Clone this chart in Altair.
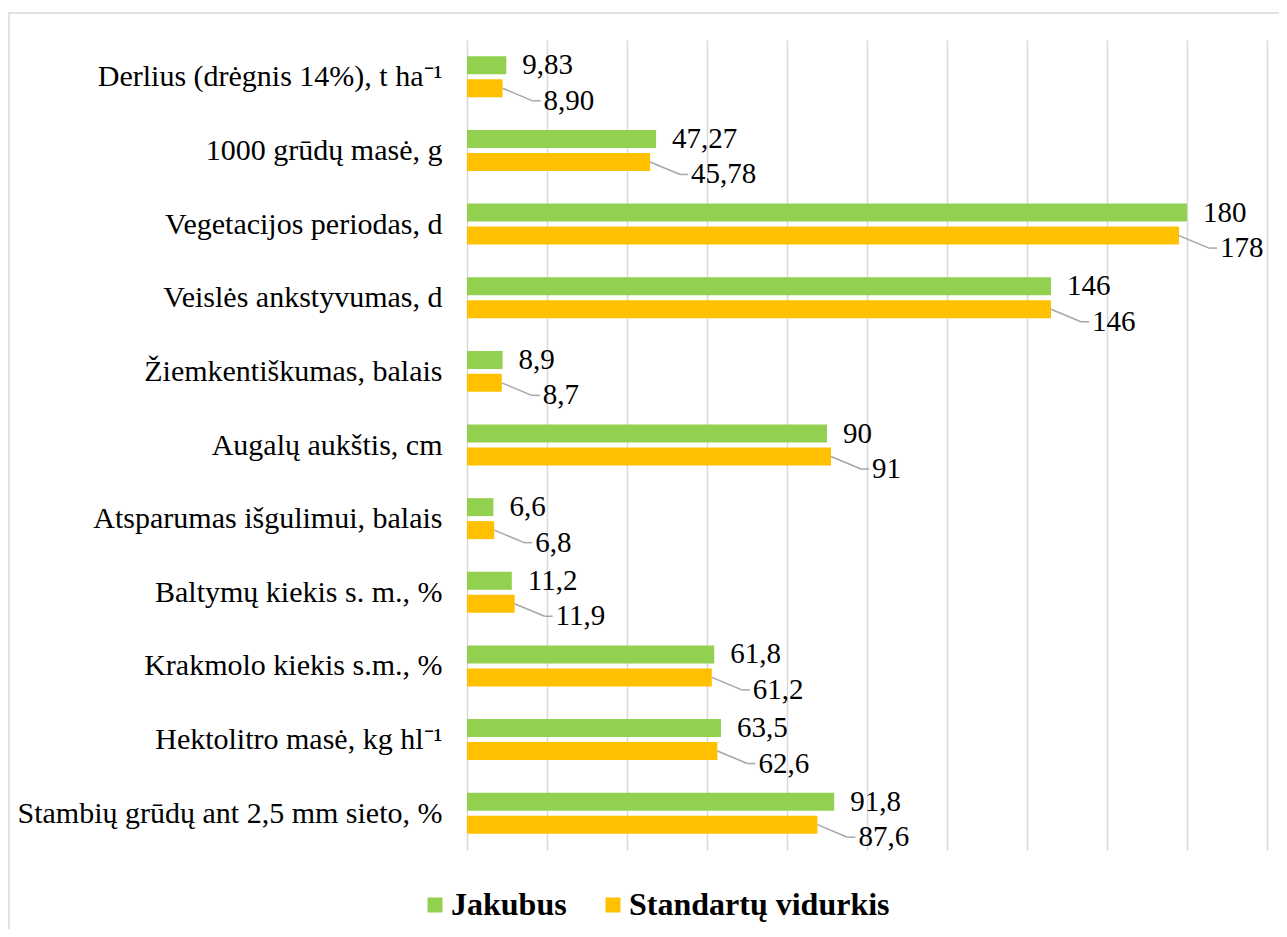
import json
import altair as alt
import pandas as pd

categories = [
    "Derlius (drėgnis 14%), t ha⁻¹\u00a0",
    "1000 grūdų masė, g\u00a0",
    "Vegetacijos periodas, d",
    "Veislės ankstyvumas, d",
    "Žiemkentiškumas, balais",
    "Augalų aukštis, cm",
    "Atsparumas išgulimui, balais",
    "Baltymų kiekis s. m., %",
    "Krakmolo kiekis s.m., %",
    "Hektolitro masė, kg hl⁻¹\u00a0",
    "Stambių grūdų ant 2,5 mm sieto, %",
]
jakubus = [9.83, 47.27, 180, 146, 8.9, 90, 6.6, 11.2, 61.8, 63.5, 91.8]
standartai = [8.90, 45.78, 178, 146, 8.7, 91, 6.8, 11.9, 61.2, 62.6, 87.6]
decimals = [2, 2, 0, 0, 1, 0, 1, 1, 1, 1, 1]
series = ["Jakubus", "Standartų vidurkis"]
colors = ["#92D050", "#FFC000"]
x_ticks = list(range(0, 201, 20))

rows = []
for i, cat in enumerate(categories):
    for s, vals in zip(series, [jakubus, standartai]):
        v = vals[i]
        rows.append({
            "row": i,
            "category": cat,
            "series": s,
            "value": v,
            "label": f"{v:.{decimals[i]}f}".replace(".", ","),
        })
df = pd.DataFrame(rows)

FONT = "Liberation Serif"
label_expr = json.dumps(categories, ensure_ascii=False) + "[datum.value]"

yscale = alt.Scale(domain=[-0.5, 10.5], reverse=True, nice=False, zero=False, padding=0)
xscale = alt.Scale(domain=[0, 200], nice=False)

base = alt.Chart(df).transform_calculate(
    yb="datum.row + (datum.series == 'Jakubus' ? -0.156 : 0.156)"
)

bars = base.mark_bar(orient="horizontal", size=18).encode(
    x=alt.X("value:Q", scale=xscale, title=None,
            axis=alt.Axis(values=x_ticks, labels=False, ticks=False, domain=False,
                          grid=True, gridColor="#D9D9D9", gridWidth=1.5)),
    y=alt.Y("yb:Q", scale=yscale, title=None,
            axis=alt.Axis(values=list(range(len(categories))), labelExpr=label_expr,
                          ticks=False, domain=False, grid=False,
                          labelFont=FONT, labelFontSize=30, labelColor="#000000",
                          labelPadding=25, labelLimit=1000, labelAlign="right",
                          labelBaseline="middle")),
    color=alt.Color("series:N", scale=alt.Scale(domain=series, range=colors),
                    legend=alt.Legend(orient="none", legendX=-48, legendY=849,
                                      direction="horizontal", title=None,
                                      symbolType="square", symbolSize=225,
                                      symbolStrokeWidth=0,
                                      labelFont=FONT, labelFontSize=32,
                                      labelFontWeight="bold", labelColor="#000000",
                                      labelLimit=600,
                                      columnPadding=30, labelOffset=0)),
)

green_labels = base.transform_filter("datum.series == 'Jakubus'").mark_text(
    align="left", baseline="middle", dx=16, font=FONT, fontSize=29, color="#000000"
).encode(
    x=alt.X("value:Q", scale=xscale),
    y=alt.Y("yb:Q", scale=yscale),
    text="label:N",
)

orange = base.transform_filter("datum.series != 'Jakubus'").transform_calculate(
    x1="datum.value + 7.5",
    x2="datum.value + 9.5",
    yl="datum.yb + 0.17",
)

leader_diag = orange.mark_rule(color="#A6A6A6", strokeWidth=1.5).encode(
    x=alt.X("value:Q", scale=xscale),
    x2="x1:Q",
    y=alt.Y("yb:Q", scale=yscale),
    y2="yl:Q",
)
leader_h = orange.mark_rule(color="#A6A6A6", strokeWidth=1.5).encode(
    x=alt.X("x1:Q", scale=xscale),
    x2="x2:Q",
    y=alt.Y("yl:Q", scale=yscale),
)
orange_labels = orange.mark_text(
    align="left", baseline="middle", dx=3, font=FONT, fontSize=29, color="#000000"
).encode(
    x=alt.X("x2:Q", scale=xscale),
    y=alt.Y("yl:Q", scale=yscale),
    text="label:N",
)

frame = alt.Chart(alt.Data(values=[{"a": 1}])).mark_rect(
    filled=False, stroke="#D9D9D9", strokeWidth=1.5
).encode(
    x=alt.value(-458), x2=alt.value(830), y=alt.value(-27), y2=alt.value(900)
)

chart = alt.layer(frame, bars, leader_diag, leader_h, green_labels, orange_labels).properties(
    width=800,
    height=810,
    padding={"left": 459, "top": 32, "right": 12, "bottom": 79},
    autosize=alt.AutoSizeParams(type="none"),
    background="#FFFFFF",
).configure_view(stroke=None)

chart.save("out.html", embed_options={"renderer": "svg", "actions": False})
